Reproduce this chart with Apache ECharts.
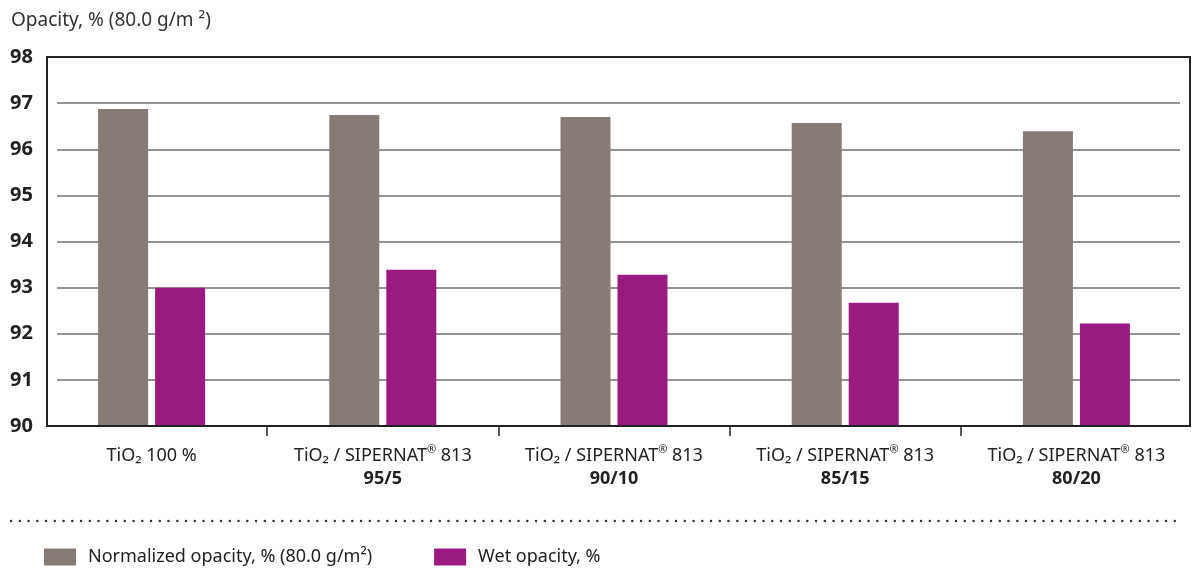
<!DOCTYPE html>
<html>
<head>
<meta charset="utf-8">
<script src="https://cdn.jsdelivr.net/npm/echarts@6/dist/echarts.min.js"></script>
<style>
html,body{margin:0;padding:0;background:#fff;}
#c{width:1192px;height:573px;}
</style>
</head>
<body>
<div id="c"></div>
<script>
const categories = ['TiO₂ 100 %', 'TiO₂ / SIPERNAT® 813', 'TiO₂ / SIPERNAT® 813', 'TiO₂ / SIPERNAT® 813', 'TiO₂ / SIPERNAT® 813'];
const ratios = ['', '95/5', '90/10', '85/15', '80/20'];
const normalizedOpacity = [96.87, 96.74, 96.70, 96.57, 96.39];
const wetOpacity = [93.0, 93.39, 93.28, 92.67, 92.22];
const yTicks = { min: 90, max: 98, step: 1 };
const seriesNames = ['Normalized opacity, % (80.0 g/m²)', 'Wet opacity, %'];
const yTitle = 'Opacity, % (80.0 g/m ²)';

const FONT = '"Noto Sans", sans-serif';
const chart = echarts.init(document.getElementById('c'), null, {renderer: 'canvas'});
chart.setOption({
  animation: false,
  backgroundColor: '#fff',
  textStyle: { fontFamily: FONT },
  grid: [
    { left: 36, right: 0, top: 57, bottom: 147 },
    { left: 57, right: 12, top: 57, bottom: 147 }
  ],
  title: {
    text: yTitle, left: 6, top: 6,
    textStyle: { fontFamily: FONT, fontSize: 19, fontWeight: 'normal', color: '#333' }
  },
  legend: {
    left: 39, top: 543, itemWidth: 32, itemHeight: 17, itemGap: 62,
    icon: 'rect',
    textStyle: { fontFamily: FONT, fontSize: 18, color: '#222', padding: [0, 0, 0, 7] },
    data: seriesNames
  },
  xAxis: [
    {
      type: 'category', gridIndex: 0, data: categories,
      axisLine: { show: false }, axisTick: { show: false },
      axisLabel: {
        margin: 18, interval: 0,
        formatter: function (v, i) {
          const first = '{a|' + v.replace('®', '}{r|®}{a|') + '}';
          return ratios[i] ? first + '\n{b|' + ratios[i] + '}' : first;
        },
        rich: {
          a: { fontFamily: FONT, fontSize: 18, color: '#222', lineHeight: 23 },
          r: { fontFamily: FONT, fontSize: 11, color: '#222', verticalAlign: 'top', lineHeight: 16 },
          b: { fontFamily: FONT, fontSize: 18, fontWeight: 'bold', color: '#222', lineHeight: 23 }
        }
      }
    },
    {
      type: 'value', gridIndex: 0, min: 0, max: 5, interval: 1, position: 'bottom',
      axisLine: { show: false },
      axisTick: { show: true, length: 10, inside: false, customValues: [1, 2, 3, 4], lineStyle: { color: '#222', width: 1.5 } },
      axisLabel: { show: false }, splitLine: { show: false }
    },
    {
      type: 'value', gridIndex: 1, show: false, min: 0, max: 1
    }
  ],
  yAxis: [
    { type: 'value', gridIndex: 0, min: yTicks.min, max: yTicks.max, show: false, splitLine: { show: false } },
    {
      type: 'value', gridIndex: 1, min: yTicks.min, max: yTicks.max, interval: yTicks.step,
      axisLine: { show: false }, axisTick: { show: false },
      axisLabel: { margin: 24, fontFamily: FONT, fontSize: 20, fontWeight: 'bold', color: '#222' },
      splitLine: { show: true, lineStyle: { color: '#707070', width: 1.5 } }
    }
  ],
  series: [
    {
      name: seriesNames[0], type: 'bar', xAxisIndex: 0, yAxisIndex: 0,
      data: normalizedOpacity, barWidth: 50, barGap: '14%',
      itemStyle: { color: '#877b75' }, z: 3
    },
    {
      name: seriesNames[1], type: 'bar', xAxisIndex: 0, yAxisIndex: 0,
      data: wetOpacity, barWidth: 50, barGap: '14%',
      itemStyle: { color: '#9a1a80' }, z: 3
    }
  ],
  graphic: [
    {
      type: 'rect', z: 100, silent: true,
      shape: { x: 47, y: 57, width: 1143, height: 369 },
      style: { fill: null, stroke: '#222', lineWidth: 2 }
    },
    {
      type: 'line', z: 100, silent: true,
      shape: { x1: 11, y1: 521, x2: 1183, y2: 521 },
      style: { stroke: '#333', lineWidth: 2.4, lineDash: [0.1, 8.65], lineCap: 'round' }
    }
  ]
});
</script>
</body>
</html>
